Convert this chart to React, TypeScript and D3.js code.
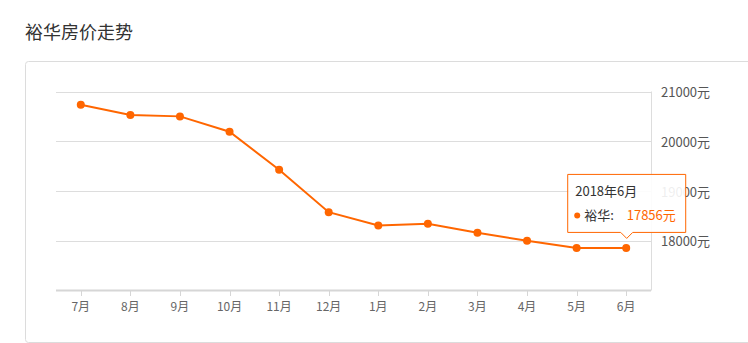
import React from "react";
import * as d3 from "d3";

const months = ["7月", "8月", "9月", "10月", "11月", "12月", "1月", "2月", "3月", "4月", "5月", "6月"];
const prices = [20733, 20527, 20500, 20192, 19429, 18575, 18306, 18340, 18159, 17999, 17853, 17856];
const yTicks = [17000, 18000, 19000, 20000, 21000];
const title = "裕华房价走势";
const seriesName = "裕华";
const tooltipTitle = "2018年6月";

const W = 748;
const H = 343;
const FONT = "'Noto Sans CJK SC', 'Noto Sans', sans-serif";
const ORANGE = "#ff6600";

export default function App() {
  const x = d3.scalePoint<string>().domain(months).range([56, 651]).padding(0.5);
  const y = d3.scaleLinear().domain([17000, 21000]).range([290.5, 91.5]);
  const line = d3
    .line<number>()
    .x((_, i) => x(months[i]) as number)
    .y((d) => y(d));

  const lastI = months.length - 1;
  const px = x(months[lastI]) as number;
  const py = y(prices[lastI]);
  const tw = 118;
  const th = 58;
  const tx = px - tw / 2;
  const ty = py - 16 - th;

  return (
    <div style={{ position: "absolute", left: 0, top: 0 }}>
      <svg width={W} height={H} style={{ display: "block", fontFamily: FONT }}>
        <rect width={W} height={H} fill="#fff" />
        <text x={25} y={39} fontSize={18} fill="#333">
          {title}
        </text>
        <rect x={25.5} y={61.5} width={760} height={281} rx={3} fill="#fff" stroke="#dcdcdc" />
        {yTicks.slice(1).map((t) => (
          <line key={t} x1={56} x2={651} y1={Math.round(y(t)) + 0.5} y2={Math.round(y(t)) + 0.5} stroke="#dddddd" />
        ))}
        <line x1={651.5} x2={651.5} y1={y(21000)} y2={y(17000)} stroke="#dddddd" />
        <line x1={56} x2={651} y1={290.5} y2={290.5} stroke="#d6d6d6" strokeWidth={2} />
        {months.map((m) => (
          <g key={m}>
            <line x1={Math.round(x(m) as number) + 0.5} x2={Math.round(x(m) as number) + 0.5} y1={291} y2={296} stroke="#d6d6d6" />
            <text x={x(m) as number} y={311} fontSize={12} fill="#666" textAnchor="middle">
              {m}
            </text>
          </g>
        ))}
        {yTicks.slice(1).map((t) => (
          <text key={t} x={661} y={y(t)} fontSize={13} fill="#555" dominantBaseline="central">
            {t + "元"}
          </text>
        ))}
        <path d={line(prices) || ""} fill="none" stroke={ORANGE} strokeWidth={2} />
        {prices.map((v, i) => (
          <circle key={i} cx={x(months[i]) as number} cy={y(v)} r={4} fill={ORANGE} />
        ))}
        <g>
          <path
            d={`M${tx + 0.5},${ty + 0.5} H${tx + tw + 0.5} V${ty + th + 0.5} H${px + 6.5} L${px + 0.5},${ty + th + 6.5} L${px - 5.5},${ty + th + 0.5} H${tx + 0.5} Z`}
            fill="#fff"
            fillOpacity={0.9}
            stroke={ORANGE}
            strokeWidth={1}
          />
          <text x={tx + 8} y={ty + 22} fontSize={13} fill="#333">
            {tooltipTitle}
          </text>
          <circle cx={tx + 10} cy={ty + 41.5} r={3} fill={ORANGE} />
          <text x={tx + 17} y={ty + 46} fontSize={13} fill="#333">
            {seriesName + ":"}
          </text>
          <text x={tx + 59.5} y={ty + 46} fontSize={13} fill={ORANGE}>
            {prices[lastI] + "元"}
          </text>
        </g>
      </svg>
    </div>
  );
}
